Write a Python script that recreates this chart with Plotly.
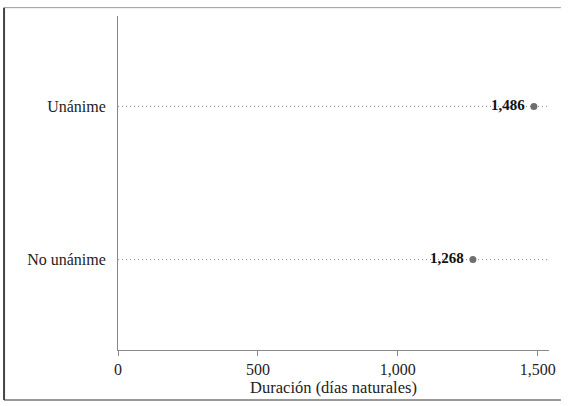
import plotly.graph_objects as go

categories = ["No unánime", "Unánime"]
duracion = [1268, 1486]
x_ticks = [0, 500, 1000, 1500]
x_max = 1540

fig = go.Figure()

# dotted guide lines for each category
for i, cat in enumerate(categories):
    fig.add_trace(go.Scatter(
        x=[0, x_max], y=[i, i], mode="lines",
        line=dict(color="#8a8a8a", width=1, dash="1px,3px"),
        hoverinfo="skip", showlegend=False))

fig.add_trace(go.Scatter(
    x=duracion, y=list(range(len(categories))), mode="markers+text",
    marker=dict(color="#6e6e6e", size=7),
    text=[f"<b>{v:,}</b> " for v in duracion],
    textposition="middle left",
    textfont=dict(family="Liberation Serif", size=15, color="#111"),
    showlegend=False))

# frame around the figure (left, top, bottom)
x_left, x_right = -0.2644, 1.0276
y_bot, y_top = -0.1497, 1.025

fig.update_layout(
    width=568, height=406,
    margin=dict(l=118, r=15, t=16, b=56),
    paper_bgcolor="white", plot_bgcolor="white",
    font=dict(family="Liberation Serif", size=14, color="#222"),
    xaxis=dict(range=[0, x_max], tickvals=x_ticks, tickformat=",",
               tickfont=dict(size=16),
               showgrid=False, zeroline=False, showline=True,
               linecolor="#888", linewidth=1, ticks="outside",
               ticklen=5, tickcolor="#888",
               title=dict(text="Duración (días naturales)", standoff=2,
                          font=dict(size=16.5))),
    yaxis=dict(range=[-0.59, 1.59], tickvals=[0, 1], ticktext=categories,
               tickfont=dict(size=16),
               showgrid=False, zeroline=False, showline=True,
               linecolor="#888", linewidth=1, ticks="", ticklabelstandoff=8),
    shapes=[
        dict(type="line", xref="paper", yref="paper",
             x0=x_left, x1=x_right, y0=y_top, y1=y_top,
             line=dict(color="#999", width=1)),
        dict(type="line", xref="paper", yref="paper",
             x0=x_left, x1=x_right, y0=y_bot, y1=y_bot,
             line=dict(color="#999", width=2)),
        dict(type="line", xref="paper", yref="paper",
             x0=x_left, x1=x_left, y0=y_bot, y1=y_top,
             line=dict(color="#444", width=2)),
    ],
)

fig.write_html("out.html", config={"displayModeBar": False},
               post_script="document.body.style.margin='0';")
